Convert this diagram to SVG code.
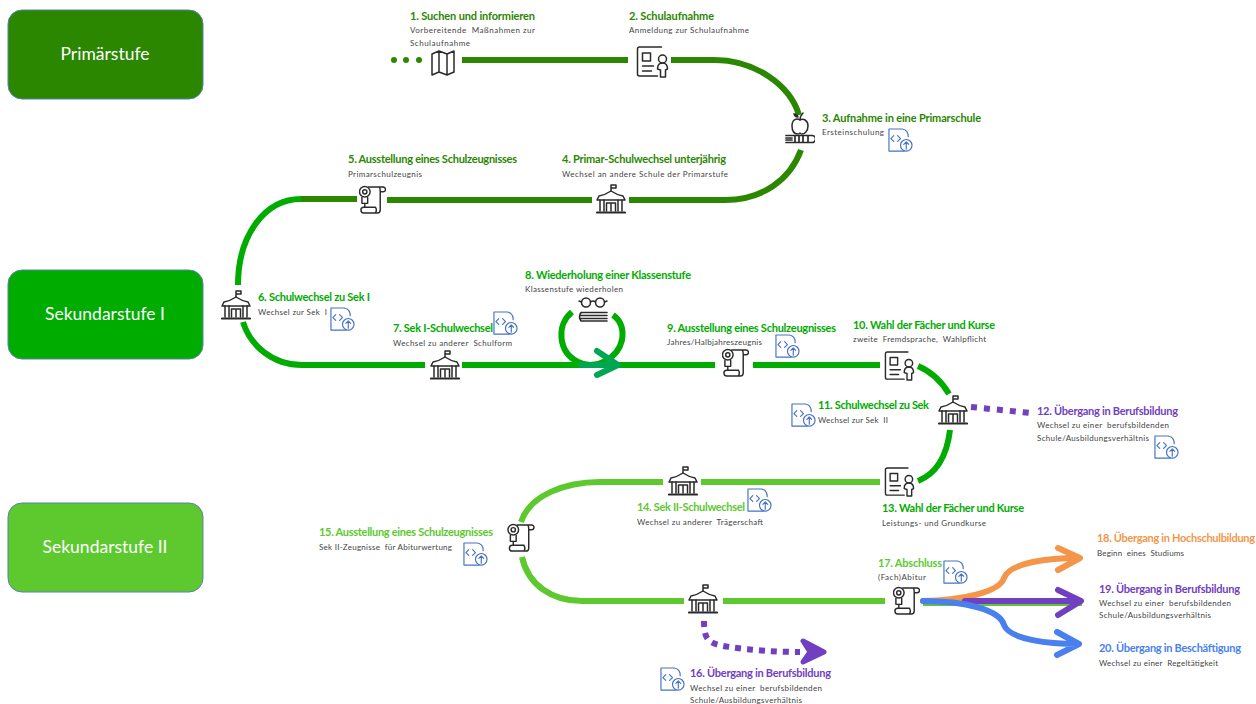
<svg xmlns="http://www.w3.org/2000/svg" width="1256" height="704" viewBox="0 0 1256 704">
<style>
text{font-family:"Lato","Liberation Sans",sans-serif}
.t{font-size:11px;font-weight:700}
.s{font-size:8px;fill:#444}
.b{font-size:17.500px;fill:#fff;text-anchor:middle}
.box{stroke:#5b82a8;stroke-width:1}
.p{fill:#2b8700}.a{fill:#00ac00}.c{fill:#5dc92f}.v{fill:#7040c0}.o{fill:#f4964a}.u{fill:#4a7ff0}
path.l{fill:none;stroke-width:6}
.lp{stroke:#2b8700}.la{stroke:#00ac00}.lc{stroke:#5dc92f}
.i{fill:none;stroke:#2a2a2a;stroke-width:1.500;stroke-linecap:round;stroke-linejoin:round}
.f{fill:none;stroke:#4472c4;stroke-width:1.200;stroke-linejoin:round;stroke-linecap:round}
</style>
<defs>
<symbol id="school" viewBox="0 0 30 30"><g class="i"><path d="M15 7V1h5v3h-5"/><path d="M3 12Q9 11 15 7 21 11 27 12L29 16H1Z"/><path d="M4 16V27M26 16V27M8 16V27M22 16V27"/><path d="M10.500 27V19h9v8M15 19v8"/><path d="M1 28.500h28" stroke-width="2.200"/></g></symbol>
<symbol id="form" viewBox="0 0 32 32"><g class="i"><path d="M25 1H3Q1 1 1 3V28Q1 30 3 30H21"/><path d="M6 7h8v8H6zM6 20h11M6 25h9"/><circle cx="26" cy="13" r="4"/><path d="M21 23q0-6 5-6t5 6l-2 1v7h-5v-7z"/></g></symbol>
<symbol id="map" viewBox="0 0 24 26"><path class="i" d="M1 4 8 1l8 3 7-3V22l-7 3-8-3-7 3zM8 1V22M16 4V25"/></symbol>
<symbol id="diploma" viewBox="0 0 28 30"><g class="i"><circle cx="6" cy="7" r="5.500"/><circle cx="6" cy="7" r="2.200"/><path d="M3 13v6h6v-6"/><path d="M6 19v4"/><path d="M10 2H25a2.500 2.500 0 0 1 0 5h-3M21 2q1 1 1 4V26q0 3-3 3H5q-3 0-3-3t3-3H17q2 3 0 6"/></g></symbol>
<symbol id="apple" viewBox="0 0 30 32"><g class="i"><path d="M15 8c-3-2-8-1-8 6s4 8 6 8 1.500-1 2-1 0 1 2 1 6-2 6-8-5-8-8-6z"/><path d="M15 8q0-4 3-7"/><path d="M13 5q-3 0-4-3 3 0 4 3z"/><path d="M1 23.500H27a3.500 3.500 0 0 1 0 7H1" stroke-width="1.700"/><path d="M1 26h6M1 28h6M10 24v6M14 24v6M18 24v6M23 24v6" stroke-width="1.700"/></g></symbol>
<symbol id="glass" viewBox="0 0 30 25"><g class="i"><circle cx="8" cy="5.500" r="4.500"/><circle cx="22" cy="5.500" r="4.500"/><path d="M12.500 5q2.500-2 5 0M3.500 5 1 4M26.500 5 29 4"/><path d="M3 15.500H29M3 18.500H29M3 21.500H29M3 24H29M3 15.500Q0 20 3 24" stroke-width="1.600"/></g></symbol>
<symbol id="file" viewBox="0 0 26 26"><g class="f"><path d="M17 24H1V1H15Q21 2 21 9"/><path d="M6 8 3 11l3 3M10 8l3 3-3 3"/><circle cx="19" cy="18" r="6"/><path d="M19 22v-7M16.500 17 19 14.500 21.500 17"/></g></symbol>
</defs>

<g id="connectors">
<path class="l lp" d="M462 60H628"/>
<path class="l lp" d="M671 60H714C755 60 790 85 799 115"/>
<path class="l lp" d="M801 150C790 180 762 200 725 200H629"/>
<path class="l lp" d="M592 200H387"/>
<path class="l lp" d="M357 199H300"/>
<path class="l la" d="M301 199C265 199 238 235 238 285"/>
<path class="l la" d="M243 322C250 345 272 365 302 365H425"/>
<path class="l la" d="M462 365H715"/>
<path class="l la" d="M572 312C556 325 558 352 578 362C596 371 618 358 622 340C624 328 620 320 613 315"/>
<path class="l" stroke="#00a651" stroke-linecap="round" stroke-linejoin="round" d="M581 365H618M597 351 618 365 597 375"/>
<path class="l la" d="M753 365H880"/>
<path class="l la" d="M918 366C932 372 942 382 949 394"/>
<path class="l la" d="M950 430C947 455 938 473 918 481"/>
<path class="l lc" d="M880 482H701"/>
<path class="l lc" d="M663 482H600C565 482 530 495 521 522"/>
<path class="l lc" d="M522 557C528 585 552 601 582 601H684"/>
<path class="l lc" d="M723 601H885"/>
<path d="M971 407 1031 413" fill="none" stroke="#7040c0" stroke-width="6" stroke-dasharray="6 7"/>
<path d="M704 621C704 640 708 644 730 647C750 650 775 652 800 652" fill="none" stroke="#7040c0" stroke-width="6" stroke-dasharray="6 6"/>
<path fill="#7040c0" stroke="#7040c0" stroke-width="5" stroke-linejoin="round" d="M803 641 824 652 803 662 810 652Z"/>
<path d="M923 603H1082" fill="none" stroke="#5dc92f" stroke-width="6"/>
<path class="l" stroke="#f4964a" stroke-linecap="round" stroke-linejoin="round" d="M923 601C960 601 1000 592 1004 578C1010 562 1050 558 1079 558M1058 548 1080 558 1058 570"/>
<path class="l" stroke="#7040c0" stroke-linecap="round" stroke-linejoin="round" d="M965 601H1079M1058 590 1081 601 1058 615"/>
<path class="l" stroke="#4a7ff0" stroke-linecap="round" stroke-linejoin="round" d="M923 601C965 601 1000 610 1004 625C1010 640 1050 644 1078 644M1057 632 1079 644 1057 655"/>
<circle cx="394" cy="60" r="3" class="p"/><circle cx="406" cy="60" r="3" class="p"/><circle cx="419" cy="60" r="3" class="p"/>
</g>

<g id="stage-primar"><rect class="box p" x="8" y="10" width="195" height="89" rx="14"/><text class="b" x="105" y="60">Primärstufe</text></g>
<g id="stage-sek1"><rect class="box a" x="8" y="270" width="195" height="89" rx="14"/><text class="b" x="105" y="320">Sekundarstufe I</text></g>
<g id="stage-sek2"><rect class="box c" x="8" y="503" width="195" height="89" rx="14"/><text class="b" x="105" y="553">Sekundarstufe II</text></g>

<g id="n1"><use href="#map" x="431" y="50" width="24" height="26"/><text class="t p" x="410" y="20" textLength="125">1. Suchen und informieren</text><text class="s" x="410" y="33" textLength="125" xml:space="preserve">Vorbereitende  Maßnahmen zur</text><text class="s" x="410" y="46" textLength="60">Schulaufnahme</text></g>
<g id="n2"><use href="#form" x="636" y="46" width="33" height="32"/><text class="t p" x="629" y="20" textLength="85">2. Schulaufnahme</text><text class="s" x="629" y="33" textLength="120">Anmeldung zur Schulaufnahme</text></g>
<g id="n3"><use href="#apple" x="785" y="112" width="30" height="32"/><text class="t p" x="822" y="122" textLength="159">3. Aufnahme in eine Primarschule</text><text class="s" x="822" y="135" textLength="62">Ersteinschulung</text><use href="#file" x="888" y="128" width="25" height="25"/></g>
<g id="n4"><use href="#school" x="596" y="184" width="30" height="30"/><text class="t p" x="562" y="163" textLength="164">4. Primar-Schulwechsel unterjährig</text><text class="s" x="562" y="177" textLength="166" xml:space="preserve">Wechsel an andere Schule der Primarstufe</text></g>
<g id="n5"><use href="#diploma" x="359" y="185" width="27" height="29"/><text class="t p" x="348" y="163" textLength="169">5. Ausstellung eines Schulzeugnisses</text><text class="s" x="348" y="177" textLength="74">Primarschulzeugnis</text></g>
<g id="n6"><use href="#school" x="221" y="290" width="30" height="30"/><text class="t a" x="258" y="301" textLength="112">6. Schulwechsel zu Sek I</text><text class="s" x="258" y="315" textLength="69" xml:space="preserve">Wechsel zur Sek  I</text><use href="#file" x="330" y="307" width="25" height="25"/></g>
<g id="n7"><use href="#school" x="430" y="350" width="30" height="30"/><text class="t a" x="393" y="332" textLength="100">7. Sek I-Schulwechsel</text><text class="s" x="393" y="346" textLength="119" xml:space="preserve">Wechsel zu anderer  Schulform</text><use href="#file" x="493" y="311" width="25" height="25"/></g>
<g id="n8"><use href="#glass" x="578" y="297" width="30" height="25"/><text class="t a" x="525" y="279" textLength="166">8. Wiederholung einer Klassenstufe</text><text class="s" x="525" y="292" textLength="98">Klassenstufe wiederholen</text></g>
<g id="n9"><use href="#diploma" x="722" y="348" width="27" height="29"/><text class="t a" x="667" y="332" textLength="169">9. Ausstellung eines Schulzeugnisses</text><text class="s" x="667" y="345" textLength="95">Jahres/Halbjahreszeugnis</text><use href="#file" x="775" y="334" width="25" height="25"/></g>
<g id="n10"><use href="#form" x="884" y="351" width="31" height="30"/><text class="t a" x="853" y="329" textLength="142">10. Wahl der Fächer und Kurse</text><text class="s" x="853" y="342" textLength="133" xml:space="preserve">zweite  Fremdsprache,  Wahlpflicht</text></g>
<g id="n11"><use href="#school" x="938" y="395" width="30" height="30"/><text class="t a" x="818" y="409" textLength="111">11. Schulwechsel zu Sek</text><text class="s" x="818" y="423" textLength="70" xml:space="preserve">Wechsel zur Sek  II</text><use href="#file" x="791" y="403" width="25" height="25"/></g>
<g id="n12"><text class="t v" x="1037" y="415" textLength="141">12. Übergang in Berufsbildung</text><text class="s" x="1037" y="428" textLength="132" xml:space="preserve">Wechsel zu einer  berufsbildenden</text><text class="s" x="1037" y="441" textLength="112">Schule/Ausbildungsverhältnis</text><use href="#file" x="1154" y="435" width="25" height="25"/></g>
<g id="n13"><use href="#form" x="884" y="467" width="31" height="30"/><text class="t a" x="882" y="512" textLength="142">13. Wahl der Fächer und Kurse</text><text class="s" x="882" y="526" textLength="104" xml:space="preserve">Leistungs- und Grundkurse</text></g>
<g id="n14"><use href="#school" x="668" y="466" width="30" height="30"/><text class="t c" x="637" y="511" textLength="108">14. Sek II-Schulwechsel</text><text class="s" x="637" y="525" textLength="126" xml:space="preserve">Wechsel zu anderer  Trägerschaft</text><use href="#file" x="747" y="488" width="25" height="25"/></g>
<g id="n15"><use href="#diploma" x="507" y="523" width="28" height="29"/><text class="t c" x="319" y="536" textLength="174">15. Ausstellung eines Schulzeugnisses</text><text class="s" x="319" y="550" textLength="133" xml:space="preserve">Sek II-Zeugnisse  für Abiturwertung</text><use href="#file" x="463" y="542" width="25" height="25"/></g>
<g id="n16"><use href="#school" x="688" y="584" width="30" height="30"/><text class="t v" x="690" y="677" textLength="141">16. Übergang in Berufsbildung</text><text class="s" x="690" y="691" textLength="132" xml:space="preserve">Wechsel zu einer  berufsbildenden</text><text class="s" x="690" y="703" textLength="112">Schule/Ausbildungsverhältnis</text><use href="#file" x="660" y="667" width="25" height="25"/></g>
<g id="n17"><use href="#diploma" x="893" y="586" width="27" height="29"/><text class="t c" x="878" y="567" textLength="64">17. Abschluss</text><text class="s" x="878" y="580" textLength="48">(Fach)Abitur</text><use href="#file" x="943" y="560" width="25" height="25"/></g>
<g id="n18"><text class="t o" x="1097" y="542" textLength="158">18. Übergang in Hochschulbildung</text><text class="s" x="1097" y="556" textLength="87" xml:space="preserve">Beginn  eines  Studiums</text></g>
<g id="n19"><text class="t v" x="1099" y="593" textLength="141">19. Übergang in Berufsbildung</text><text class="s" x="1099" y="606" textLength="132" xml:space="preserve">Wechsel zu einer  berufsbildenden</text><text class="s" x="1099" y="618" textLength="112">Schule/Ausbildungsverhältnis</text></g>
<g id="n20"><text class="t u" x="1099" y="652" textLength="142">20. Übergang in Beschäftigung</text><text class="s" x="1099" y="666" textLength="119" xml:space="preserve">Wechsel zu einer  Regeltätigkeit</text></g>
</svg>
